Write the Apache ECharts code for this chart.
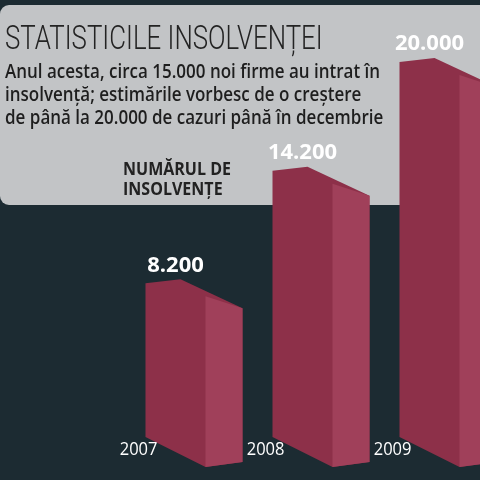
<!DOCTYPE html>
<html>
<head>
<meta charset="utf-8">
<script src="https://cdn.jsdelivr.net/npm/echarts@6/dist/echarts.min.js"></script>
<style>
  html, body { margin: 0; padding: 0; background: #1c2b32; }
  #chart { width: 480px; height: 480px; }
</style>
</head>
<body>
<div id="chart"></div>
<script>
// date
const years = ['2007', '2008', '2009'];
const insolvente = [8200, 14200, 20000];
const valueLabels = ['8.200', '14.200', '20.000'];
const titleText = 'STATISTICILE INSOLVENȚEI';
const subtitleLines = [
  'Anul acesta, circa 15.000 noi firme au intrat în',
  'insolvență; estimările vorbesc de o creștere',
  'de până la 20.000 de cazuri până în decembrie'
];
const axisTitleLines = ['NUMĂRUL DE', 'INSOLVENȚE'];

const chart = echarts.init(document.getElementById('chart'));

// bara "3D": fata + lateral, eticheta valorii si anul
function renderBar(params, api) {
  const i = api.value(0);
  const top = api.coord([i, api.value(1)]);
  const base = api.coord([i, 0]);
  const xL = top[0] - 48, xM = top[0] + 12, xR = top[0] + 49;
  const yT = top[1], y0 = base[1];
  return {
    type: 'group',
    children: [
      {
        type: 'polygon',
        shape: { points: [[xL, yT], [xL + 35, yT - 4], [xR, yT + 25], [xR, y0 + 25], [xM, y0 + 30], [xL, y0]] },
        style: { fill: '#8d3049' }
      },
      {
        type: 'polygon',
        shape: { points: [[xM, yT + 13], [xR, yT + 25], [xR, y0 + 25], [xM, y0 + 30]] },
        style: { fill: '#a0405a' }
      },
      {
        type: 'text',
        x: xL + 30,
        y: yT - 18,
        style: {
          text: valueLabels[i],
          fill: '#ffffff',
          font: 'bold 22px "Open Sans", sans-serif',
          align: 'center',
          verticalAlign: 'middle'
        }
      },
      {
        type: 'text',
        x: xL + 12,
        y: y0 + 13,
        scaleX: 0.87,
        z2: 10,
        style: {
          text: years[i],
          fill: '#ffffff',
          font: '500 19px "Open Sans", sans-serif',
          align: 'right',
          verticalAlign: 'middle'
        }
      }
    ]
  };
}

const textFont = '600 20px "Open Sans", sans-serif';
const smallFont = 'bold 18px "Open Sans", sans-serif';

const option = {
  backgroundColor: '#1c2b32',
  animation: false,
  grid: { left: 130, width: 381, top: 62, bottom: 43, outerBoundsMode: 'none' },
  xAxis: {
    type: 'category',
    data: years,
    axisLine: { show: false },
    axisTick: { show: false },
    axisLabel: { show: false }
  },
  yAxis: {
    type: 'value',
    min: 0,
    max: 20000,
    show: false
  },
  graphic: [
    {
      type: 'rect',
      z: 0,
      shape: { x: 0, y: 5, width: 495, height: 200, r: 9 },
      style: { fill: '#c2c4c6' }
    },
    {
      type: 'text',
      x: 5, y: 40, scaleX: 0.76,
      style: { text: titleText, fill: '#232323', font: '300 34px Roboto, sans-serif', verticalAlign: 'middle' }
    },
    {
      type: 'text',
      x: 5, y: 72, scaleX: 0.85,
      style: { text: subtitleLines[0], fill: '#1e1e1e', font: textFont, verticalAlign: 'middle' }
    },
    {
      type: 'text',
      x: 5, y: 95, scaleX: 0.85,
      style: { text: subtitleLines[1], fill: '#1e1e1e', font: textFont, verticalAlign: 'middle' }
    },
    {
      type: 'text',
      x: 5, y: 118, scaleX: 0.85,
      style: { text: subtitleLines[2], fill: '#1e1e1e', font: textFont, verticalAlign: 'middle' }
    },
    {
      type: 'text',
      x: 123, y: 170, scaleX: 0.89,
      style: { text: axisTitleLines[0], fill: '#222222', font: smallFont, verticalAlign: 'middle' }
    },
    {
      type: 'text',
      x: 123, y: 190, scaleX: 0.89,
      style: { text: axisTitleLines[1], fill: '#222222', font: smallFont, verticalAlign: 'middle' }
    }
  ],
  series: [
    {
      type: 'custom',
      clip: false,
      z: 5,
      renderItem: renderBar,
      data: insolvente.map((v, i) => [i, v])
    }
  ]
};

chart.setOption(option);
</script>
</body>
</html>
